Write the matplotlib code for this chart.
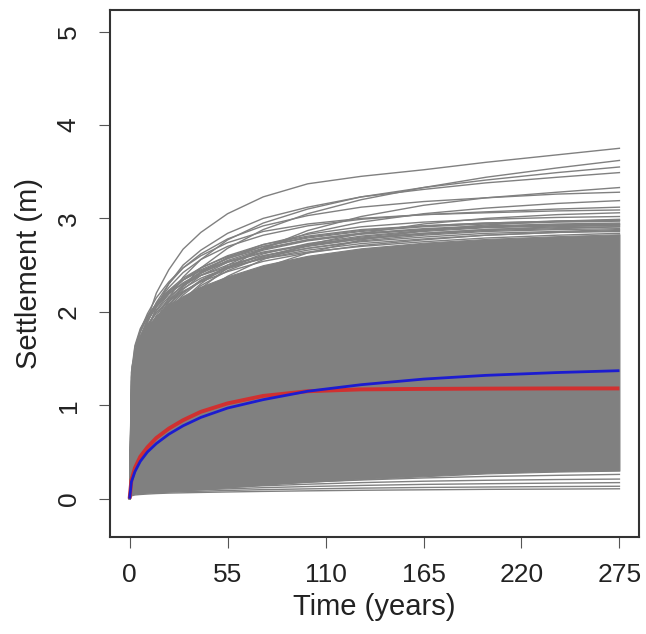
import matplotlib
matplotlib.use('Agg')
import matplotlib.pyplot as plt

time_years = [0, 1, 3, 6, 10, 15, 22, 30, 40, 55, 75, 100, 130, 165, 200, 240, 275]

# Red and blue curves (m)
red_curve = [0, 0.20, 0.33, 0.45, 0.55, 0.65, 0.75, 0.84, 0.93, 1.02, 1.10, 1.15, 1.17, 1.175, 1.178, 1.18, 1.18]
blue_curve = [0, 0.18, 0.29, 0.40, 0.50, 0.59, 0.69, 0.78, 0.87, 0.97, 1.06, 1.15, 1.22, 1.28, 1.32, 1.35, 1.37]

# Solid gray mass of simulated curves (lower and upper edge)
band_low = [0, 0.05, 0.06, 0.065, 0.07, 0.075, 0.08, 0.09, 0.10, 0.12, 0.15, 0.18, 0.21, 0.24, 0.27, 0.29, 0.30]
band_high = [0, 1.42, 1.58, 1.72, 1.85, 1.96, 2.07, 2.17, 2.27, 2.38, 2.50, 2.60, 2.68, 2.74, 2.78, 2.81, 2.83]

# Separate curves along the bottom of the mass
bottom_curves = [
    [0, 0.03, 0.04, 0.045, 0.05, 0.055, 0.06, 0.063, 0.067, 0.072, 0.078, 0.084, 0.09, 0.095, 0.10, 0.103, 0.106],
    [0, 0.04, 0.05, 0.055, 0.06, 0.065, 0.07, 0.075, 0.08, 0.088, 0.097, 0.105, 0.113, 0.12, 0.125, 0.13, 0.133],
    [0, 0.045, 0.055, 0.06, 0.066, 0.072, 0.08, 0.087, 0.095, 0.105, 0.118, 0.13, 0.142, 0.153, 0.16, 0.167, 0.172],
    [0, 0.05, 0.058, 0.064, 0.07, 0.077, 0.086, 0.095, 0.106, 0.12, 0.138, 0.155, 0.172, 0.187, 0.197, 0.205, 0.21],
    [0, 0.05, 0.06, 0.066, 0.072, 0.08, 0.09, 0.1, 0.113, 0.13, 0.153, 0.178, 0.2, 0.222, 0.238, 0.25, 0.26],
]

# Streaky curves just above the solid mass
streak_curves = [
    [0, 0.90, 1.35, 1.62, 1.84, 2.02, 2.19, 2.34, 2.47, 2.60, 2.72, 2.81, 2.88, 2.92, 2.95, 2.97, 2.98],
    [0, 1.20, 1.58, 1.78, 1.94, 2.08, 2.22, 2.34, 2.44, 2.54, 2.64, 2.72, 2.79, 2.84, 2.88, 2.91, 2.93],
    [0, 0.70, 1.12, 1.42, 1.66, 1.87, 2.07, 2.24, 2.39, 2.53, 2.66, 2.76, 2.83, 2.88, 2.91, 2.93, 2.94],
    [0, 1.00, 1.42, 1.66, 1.85, 2.01, 2.16, 2.28, 2.39, 2.50, 2.60, 2.68, 2.75, 2.80, 2.84, 2.86, 2.88],
    [0, 0.80, 1.22, 1.50, 1.72, 1.92, 2.11, 2.27, 2.41, 2.55, 2.67, 2.77, 2.84, 2.88, 2.91, 2.92, 2.92],
    [0, 1.35, 1.64, 1.82, 1.96, 2.08, 2.20, 2.30, 2.39, 2.48, 2.57, 2.64, 2.70, 2.75, 2.79, 2.82, 2.84],
    [0, 0.60, 1.00, 1.28, 1.52, 1.73, 1.94, 2.12, 2.28, 2.44, 2.59, 2.71, 2.80, 2.86, 2.90, 2.92, 2.93],
    [0, 1.10, 1.50, 1.73, 1.90, 2.05, 2.19, 2.31, 2.42, 2.53, 2.63, 2.71, 2.78, 2.83, 2.87, 2.89, 2.91],
    [0, 0.95, 1.32, 1.56, 1.75, 1.92, 2.08, 2.21, 2.33, 2.46, 2.58, 2.68, 2.76, 2.82, 2.86, 2.88, 2.89],
    [0, 1.25, 1.55, 1.72, 1.86, 1.99, 2.11, 2.22, 2.32, 2.43, 2.54, 2.63, 2.71, 2.77, 2.82, 2.85, 2.87],
    [0, 0.85, 1.28, 1.55, 1.77, 1.96, 2.14, 2.29, 2.43, 2.57, 2.70, 2.80, 2.87, 2.92, 2.95, 2.97, 2.98],
    [0, 1.15, 1.52, 1.74, 1.91, 2.06, 2.21, 2.34, 2.45, 2.57, 2.68, 2.77, 2.84, 2.89, 2.92, 2.94, 2.95],
    [0, 0.75, 1.15, 1.44, 1.67, 1.87, 2.05, 2.20, 2.34, 2.48, 2.60, 2.70, 2.78, 2.84, 2.88, 2.90, 2.91],
    [0, 1.05, 1.45, 1.67, 1.84, 1.99, 2.13, 2.25, 2.36, 2.47, 2.57, 2.66, 2.73, 2.78, 2.82, 2.85, 2.86],
    [0, 1.30, 1.62, 1.80, 1.95, 2.09, 2.23, 2.36, 2.47, 2.59, 2.70, 2.79, 2.86, 2.91, 2.94, 2.96, 2.97],
    [0, 0.65, 1.05, 1.34, 1.58, 1.80, 2.01, 2.18, 2.33, 2.48, 2.62, 2.73, 2.81, 2.87, 2.91, 2.93, 2.94],
]

# Outlying upper curves
upper_curves = [
    [0, 0.90, 1.40, 1.70, 1.92, 2.20, 2.45, 2.67, 2.85, 3.05, 3.23, 3.37, 3.45, 3.52, 3.60, 3.68, 3.75],
    [0, 0.60, 1.00, 1.30, 1.55, 1.80, 2.05, 2.27, 2.47, 2.68, 2.88, 3.05, 3.20, 3.33, 3.44, 3.54, 3.62],
    [0, 0.70, 1.10, 1.42, 1.68, 1.92, 2.15, 2.37, 2.56, 2.77, 2.95, 3.10, 3.23, 3.33, 3.41, 3.49, 3.55],
    [0, 0.80, 1.25, 1.55, 1.80, 2.05, 2.30, 2.50, 2.66, 2.84, 3.00, 3.12, 3.23, 3.31, 3.38, 3.44, 3.49],
    [0, 0.50, 0.85, 1.15, 1.40, 1.63, 1.86, 2.06, 2.25, 2.47, 2.68, 2.87, 3.02, 3.14, 3.22, 3.28, 3.33],
    [0, 0.90, 1.35, 1.65, 1.88, 2.10, 2.30, 2.47, 2.62, 2.78, 2.92, 3.03, 3.12, 3.18, 3.22, 3.26, 3.28],
    [0, 0.60, 0.98, 1.27, 1.50, 1.72, 1.94, 2.13, 2.30, 2.50, 2.68, 2.84, 2.96, 3.05, 3.11, 3.16, 3.19],
    [0, 1.00, 1.45, 1.70, 1.90, 2.08, 2.26, 2.42, 2.56, 2.70, 2.82, 2.92, 2.99, 3.04, 3.07, 3.10, 3.12],
    [0, 0.55, 0.90, 1.18, 1.42, 1.64, 1.85, 2.03, 2.20, 2.38, 2.56, 2.72, 2.84, 2.94, 3.00, 3.04, 3.06],
    [0, 0.75, 1.15, 1.45, 1.68, 1.90, 2.10, 2.27, 2.42, 2.58, 2.72, 2.83, 2.91, 2.96, 2.99, 3.01, 3.02],
    [0, 0.45, 0.78, 1.05, 1.28, 1.50, 1.72, 1.90, 2.08, 2.28, 2.47, 2.63, 2.77, 2.87, 2.93, 2.97, 2.99],
    [0, 1.10, 1.55, 1.80, 1.98, 2.15, 2.32, 2.47, 2.60, 2.74, 2.86, 2.94, 3.00, 3.04, 3.06, 3.08, 3.09],
]

x_ticks = [0, 55, 110, 165, 220, 275]
y_ticks = [0, 1, 2, 3, 4, 5]

gray = '#808080'
ink = '#222222'

plt.rcParams['font.family'] = ['Liberation Sans', 'DejaVu Sans']

fig = plt.figure(figsize=(6.46, 6.34), dpi=100)
ax = fig.add_axes([0.1703, 0.153, 0.8189, 0.8312])

# Gray cloud of simulated curves
ax.fill_between(time_years, band_low, band_high, color=gray, linewidth=0.8, edgecolor=gray)
for curve in bottom_curves + streak_curves + upper_curves:
    ax.plot(time_years, curve, color=gray, linewidth=1.0)

# Highlighted curves
ax.plot(time_years, red_curve, color='#d03030', linewidth=2.8, solid_capstyle='butt')
ax.plot(time_years, blue_curve, color='#1c1cd0', linewidth=2.0, solid_capstyle='butt')

ax.set_xlim(-11, 286)
ax.set_ylim(-0.41, 5.23)
ax.set_xticks(x_ticks)
ax.set_yticks(y_ticks)
ax.set_yticklabels([str(v) for v in y_ticks], rotation=90, va='center')

ax.tick_params(axis='both', direction='out', length=8, width=0.8, color='#555555',
               labelsize=19, labelcolor=ink)
ax.tick_params(axis='x', pad=11)
ax.tick_params(axis='y', pad=13)

for spine in ax.spines.values():
    spine.set_linewidth(1.5)
    spine.set_color('#333333')

ax.set_xlabel('Time (years)', fontsize=21, color=ink, labelpad=4)
ax.set_ylabel('Settlement (m)', fontsize=21, color=ink, labelpad=10)

fig.savefig('out.png', dpi=100)
